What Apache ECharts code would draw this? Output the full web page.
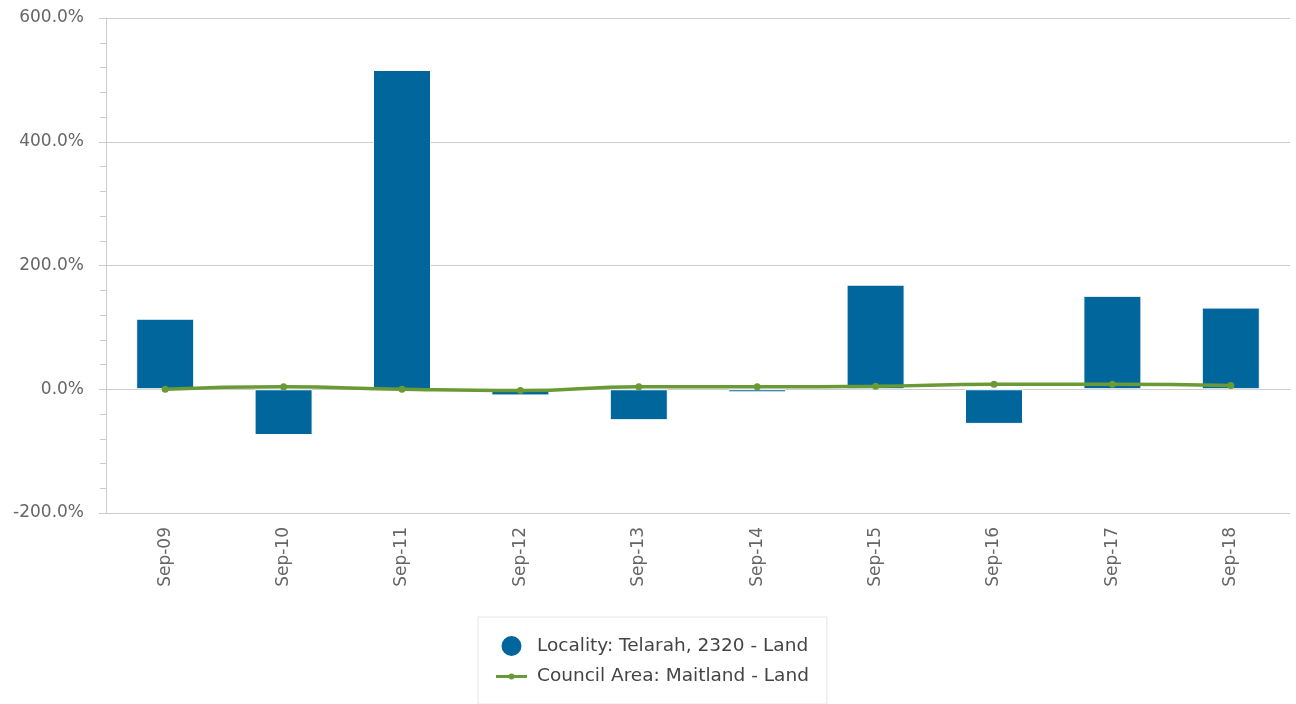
<!DOCTYPE html>
<html>
<head>
<meta charset="utf-8">
<script src="https://cdn.jsdelivr.net/npm/echarts@6/dist/echarts.min.js"></script>
<style>
  html, body { margin: 0; padding: 0; background: #fff; }
  #chart { width: 1296px; height: 704px; }
</style>
</head>
<body>
<div id="chart"></div>
<script>
// categories and values
var categories = ['Sep-09', 'Sep-10', 'Sep-11', 'Sep-12', 'Sep-13', 'Sep-14', 'Sep-15', 'Sep-16', 'Sep-17', 'Sep-18'];
var localityValues = [114, -74, 516, -10, -50, -5, 169, -56, 151, 132];
var councilValues = [0, 4, 0, -2, 4, 4, 5, 8, 8, 6];
var localityName = 'Locality: Telarah, 2320 - Land';
var councilName = 'Council Area: Maitland - Land';

// legend icon for the line series: a short line with a dot in the middle
var lineIcon = 'path://M0,9.5L31,9.5L31,12.5L0,12.5Z M12.5,11A3,3 0 1 1 18.5,11A3,3 0 1 1 12.5,11Z';

var chart = echarts.init(document.getElementById('chart'));
chart.setOption({
  animation: false,
  textStyle: { fontFamily: 'DejaVu Sans, sans-serif' },
  grid: { left: 106, right: 6, top: 18, height: 495, containLabel: false },
  legend: {
    orient: 'vertical',
    left: 478,
    top: 617,
    padding: [17, 18, 18, 18],
    itemGap: 9,
    itemWidth: 31,
    itemHeight: 22,
    borderColor: '#e6e6e6',
    borderWidth: 1,
    textStyle: { color: '#444', fontSize: 18.5, padding: [0, 0, 0, 5] },
    data: [
      { name: localityName, icon: 'circle' },
      { name: councilName, icon: lineIcon }
    ]
  },
  xAxis: {
    type: 'category',
    data: categories,
    axisLine: { lineStyle: { color: '#ccc' } },
    axisTick: { alignWithLabel: true, length: 10, lineStyle: { color: '#ccd6eb' } },
    axisLabel: { rotate: 90, color: '#666', fontSize: 17, margin: 14 }
  },
  yAxis: {
    type: 'value',
    min: -200,
    max: 600,
    interval: 200,
    axisLine: { show: true, lineStyle: { color: '#ccc' } },
    axisTick: { show: true, length: 7, lineStyle: { color: '#ccc' } },
    minorTick: { show: true, splitNumber: 5, length: 6, lineStyle: { color: '#ccc' } },
    splitLine: { lineStyle: { color: '#ccc' } },
    axisLabel: {
      color: '#666',
      fontSize: 17,
      margin: 22,
      formatter: function (v) { return v.toFixed(1) + '%'; }
    }
  },
  series: [
    {
      name: localityName,
      type: 'bar',
      data: localityValues,
      barWidth: '49%',
      itemStyle: { color: '#00669b', borderColor: '#fff', borderWidth: 1 }
    },
    {
      name: councilName,
      type: 'line',
      data: councilValues,
      smooth: true,
      symbol: 'circle',
      symbolSize: 7,
      lineStyle: { color: '#6a9a35', width: 3.5 },
      itemStyle: { color: '#6a9a35' }
    }
  ]
});
</script>
</body>
</html>
